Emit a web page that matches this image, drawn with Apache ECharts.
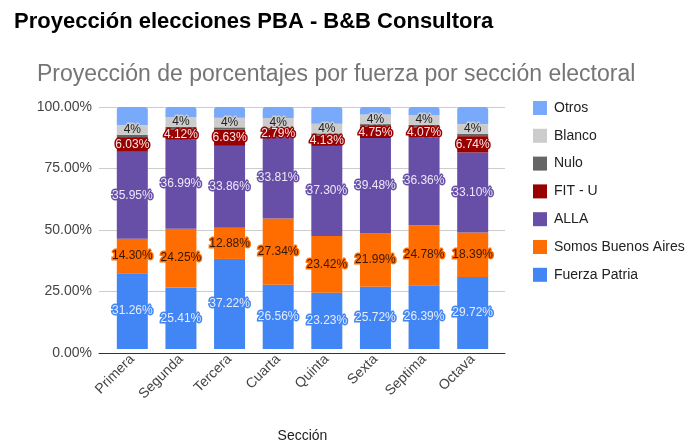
<!DOCTYPE html>
<html>
<head>
<meta charset="utf-8">
<script src="https://cdn.jsdelivr.net/npm/echarts@6/dist/echarts.min.js"></script>
<style>
  html, body { margin: 0; padding: 0; background: #fff; }
  #chart { width: 693px; height: 448px; }
</style>
</head>
<body>
<div id="chart"></div>
<script>
const secciones = ['Primera', 'Segunda', 'Tercera', 'Cuarta', 'Quinta', 'Sexta', 'Septima', 'Octava'];

const fuerzaPatria = [31.26, 25.41, 37.22, 26.56, 23.23, 25.72, 26.39, 29.72];
const somosBA = [14.30, 24.25, 12.88, 27.34, 23.42, 21.99, 24.78, 18.39];
const alla = [35.95, 36.99, 33.86, 33.81, 37.30, 39.48, 36.36, 33.10];
const fitU = [6.03, 4.12, 6.63, 2.79, 4.13, 4.75, 4.07, 6.74];
const nulo = [1, 1, 1, 1, 1, 1, 1, 1];
const blanco = [4, 4, 4, 4, 4, 4, 4, 4];
const otros = [7.46, 4.23, 4.41, 4.50, 6.92, 3.06, 3.40, 7.05];

const yTicks = [0, 25, 50, 75, 100];

const font = 'Arial, "Liberation Sans", sans-serif';

// name, data, bar colour, label text colour (null = no label)
const defs = [
  ['Fuerza Patria', fuerzaPatria, '#4285f4', '#e4edfd'],
  ['Somos Buenos Aires', somosBA, '#ff6d01', '#3a1800'],
  ['ALLA', alla, '#674ea7', '#ece7f7'],
  ['FIT - U', fitU, '#990000', '#fde8e8'],
  ['Nulo', nulo, '#666666', null],
  ['Blanco', blanco, '#cccccc', '#222222'],
  ['Otros', otros, '#78a9fa', null]
];

const series = defs.map(([name, data, color, txt], i) => ({
  name,
  type: 'bar',
  stack: 'total',
  xAxisIndex: 1,
  yAxisIndex: 1,
  barWidth: 31,
  data,
  itemStyle: {
    color,
    borderRadius: i === defs.length - 1 ? [3, 3, 0, 0] : 0
  },
  label: {
    show: !!txt,
    position: 'inside',
    fontFamily: font,
    fontSize: 12,
    color: txt || '#000',
    textBorderColor: name === 'Blanco' ? '#cccccc' : color,
    textBorderWidth: 3,
    formatter: p => name === 'Blanco' ? Math.round(p.value) + '%' : p.value.toFixed(2) + '%'
  }
}));

const chart = echarts.init(document.getElementById('chart'));
chart.setOption({
  animation: false,
  textStyle: { fontFamily: font },
  title: [
    {
      text: 'Proyección elecciones PBA - B&B Consultora',
      left: 9, top: 6,
      textStyle: { fontSize: 22, fontWeight: 'bold', color: '#000', fontFamily: font }
    },
    {
      text: 'Proyección de porcentajes por fuerza por sección electoral',
      left: 32, top: 58,
      textStyle: { fontSize: 23, fontWeight: 'normal', color: '#757575', fontFamily: font }
    }
  ],
  legend: {
    orient: 'vertical',
    left: 528, top: 96,
    itemWidth: 14, itemHeight: 14,
    itemGap: 13.8,
    icon: 'rect',
    data: defs.map(d => d[0]).reverse(),
    textStyle: { fontSize: 14, color: '#222', fontFamily: font, padding: [0, 0, 0, 2] }
  },
  grid: [
    { left: 99, right: 188, top: 107, bottom: 95 },
    { left: 108, right: 196, top: 107, bottom: 95 }
  ],
  xAxis: [
    {
      type: 'category', gridIndex: 0, data: secciones,
      axisLine: { lineStyle: { color: '#333', width: 1 } },
      axisTick: { show: false },
      axisLabel: { show: false }
    },
    {
      type: 'category', gridIndex: 1, data: secciones,
      axisLine: { show: false },
      axisTick: { show: false },
      axisLabel: { rotate: 45, fontSize: 14, color: '#444', margin: 8, fontFamily: font },
      name: 'Sección',
      nameLocation: 'middle',
      nameGap: 80,
      nameTextStyle: { fontSize: 14, color: '#222', fontFamily: font }
    }
  ],
  yAxis: [
    {
      type: 'value', gridIndex: 0,
      min: yTicks[0], max: yTicks[yTicks.length - 1], interval: 25,
      axisLine: { show: false },
      axisTick: { show: false },
      splitLine: { lineStyle: { color: '#cccccc' } },
      axisLabel: { fontSize: 14, color: '#444', margin: 7, fontFamily: font, formatter: v => v.toFixed(2) + '%' }
    },
    {
      type: 'value', gridIndex: 1, min: 0, max: 100, show: false
    }
  ],
  series
});
</script>
</body>
</html>
